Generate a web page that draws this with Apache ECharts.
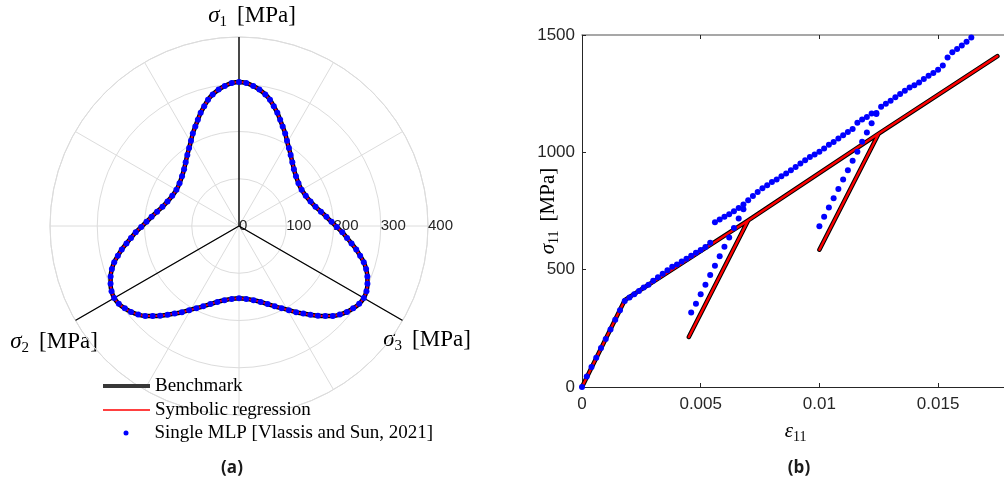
<!DOCTYPE html>
<html>
<head>
<meta charset="utf-8">
<script src="https://cdn.jsdelivr.net/npm/echarts@6.0.0/dist/echarts.min.js"></script>
<style>
  html, body { margin: 0; padding: 0; background: #ffffff; }
  #chart { width: 1004px; height: 485px; }
</style>
</head>
<body>
<div id="chart"></div>
<script>
// ---------- (a) yield surface in the pi-plane ----------
// Lode angle (degrees, counter-clockwise from the horizontal) of each sampled point
const piAngle = [
  30, 35.7, 41.1, 45.9, 50.1, 54, 57.4, 60.6, 63.5, 66.3, 68.8, 71.3, 73.8, 76.2, 78.7, 81.5, 84.2, 87.1,
  90, 92.9, 95.8, 98.5, 101.3, 103.8, 106.2, 108.7, 111.2, 113.7, 116.5, 119.4, 122.6, 126, 129.9, 134.1, 138.9, 144.3,
  150, 155.7, 161.1, 165.9, 170.1, 174, 177.4, 180.6, 183.5, 186.3, 188.8, 191.3, 193.8, 196.2, 198.7, 201.5, 204.2, 207.1,
  210, 212.9, 215.8, 218.5, 221.3, 223.8, 226.2, 228.7, 231.2, 233.7, 236.5, 239.4, 242.6, 246, 249.9, 254.1, 258.9, 264.3,
  270, 275.7, 281.1, 285.9, 290.1, 294, 297.4, 300.6, 303.5, 306.3, 308.8, 311.3, 313.8, 316.2, 318.7, 321.5, 324.2, 327.1,
  330, 332.9, 335.8, 338.5, 341.3, 343.8, 346.2, 348.7, 351.2, 353.7, 356.5, 359.4, 2.6, 6, 9.9, 14.1, 18.9, 24.3
];
// deviatoric radius of the yield surface at those angles (MPa)
const piRadius = [
  153, 155, 160, 167, 176, 186, 196, 207, 219, 230, 241, 253, 264, 275, 284, 292, 298, 303,
  305, 303, 298, 292, 284, 275, 264, 253, 241, 230, 219, 207, 196, 186, 176, 167, 160, 155,
  153, 155, 160, 167, 176, 186, 196, 207, 219, 230, 241, 253, 264, 275, 284, 292, 298, 303,
  305, 303, 298, 292, 284, 275, 264, 253, 241, 230, 219, 207, 196, 186, 176, 167, 160, 155,
  153, 155, 160, 167, 176, 186, 196, 207, 219, 230, 241, 253, 264, 275, 284, 292, 298, 303,
  305, 303, 298, 292, 284, 275, 264, 253, 241, 230, 219, 207, 196, 186, 176, 167, 160, 155
];
const principalAxisAngle = [90, 210, 330];
const radiusTicks = [0, 100, 200, 300, 400];

// ---------- (b) uniaxial cyclic response ----------
const strainTicks = [0, 0.005, 0.01, 0.015];
const strainMax = 0.018;
const stressTicks = [0, 500, 1000, 1500];
const benchmarkPath = [
  [0, 0], [0.0018, 370], [0.007, 710], [0.0045, 213], [0.007, 710],
  [0.0125, 1080], [0.01, 585], [0.0125, 1080], [0.0175, 1410]
];
const symbolicPath = [
  [0, 0], [0.0018, 370], [0.007, 710], [0.0045, 213], [0.007, 710],
  [0.0125, 1080], [0.01, 585], [0.0125, 1080], [0.0175, 1410]
];
const mlpLoading = [
  [0, 0], [0.0002, 45], [0.0004, 85], [0.0006, 125], [0.0008, 166], [0.001, 205], [0.0012, 245],
  [0.0014, 287], [0.0016, 327], [0.0018, 367], [0.002, 381], [0.0022, 395], [0.0024, 409],
  [0.0026, 424], [0.0028, 436], [0.003, 453], [0.0032, 468], [0.0034, 483], [0.0036, 497],
  [0.0038, 512], [0.004, 522], [0.0042, 535], [0.0044, 546], [0.0046, 559], [0.0048, 572],
  [0.005, 584], [0.0052, 597], [0.0054, 615]
];
const mlpCycle1 = [
  [0.0046, 317], [0.0048, 355], [0.005, 395], [0.0052, 436], [0.0054, 477], [0.0056, 517],
  [0.0058, 557], [0.006, 598], [0.0062, 637], [0.0064, 678], [0.0066, 718], [0.0068, 757]
];
const mlpReloading = [
  [0.0056, 702], [0.0058, 714], [0.006, 725], [0.0062, 736], [0.0064, 749], [0.0066, 763],
  [0.0068, 778], [0.007, 796], [0.0072, 814], [0.0074, 831], [0.0076, 847], [0.0078, 860],
  [0.008, 874], [0.0082, 884], [0.0084, 898], [0.0086, 910], [0.0088, 924], [0.009, 938],
  [0.0092, 952], [0.0094, 966], [0.0096, 980], [0.0098, 991], [0.01, 1003], [0.0102, 1016],
  [0.0104, 1032], [0.0106, 1044], [0.0108, 1059], [0.011, 1073], [0.0112, 1087], [0.0114, 1099],
  [0.0116, 1126], [0.0118, 1140], [0.012, 1151], [0.0122, 1165], [0.0124, 1168], [0.0126, 1194],
  [0.0128, 1207], [0.013, 1220], [0.0132, 1235], [0.0134, 1249], [0.0136, 1262], [0.0138, 1276],
  [0.014, 1286], [0.0142, 1298], [0.0144, 1312], [0.0146, 1326], [0.0148, 1338], [0.015, 1352],
  [0.0152, 1370], [0.0154, 1404], [0.0156, 1426], [0.0158, 1440], [0.016, 1455], [0.0162, 1471],
  [0.0164, 1489]
];
const mlpCycle2 = [
  [0.01, 685], [0.0102, 725], [0.0104, 765], [0.0106, 804], [0.0108, 844], [0.011, 884],
  [0.0112, 924], [0.0114, 964], [0.0116, 1003], [0.0118, 1045], [0.012, 1084], [0.0122, 1124],
  [0.0124, 1163]
];

const NAME_BENCH = 'Benchmark';
const NAME_SR = 'Symbolic regression';
const NAME_MLP = 'Single MLP [Vlassis and Sun, 2021]';

const SERIF = 'Liberation Serif';
const SANS = 'Liberation Sans';
const AXIS_INK = '#262626';
const GRID_INK = '#dcdcdc';

// rich-text styles: italic symbol, lowered subscript, upright text
function mathRich(size, subSize) {
  const lh = size + 5;
  return {
    i: { fontFamily: SERIF, fontStyle: 'italic', fontSize: size, lineHeight: lh, verticalAlign: 'middle', color: '#000', fill: '#000' },
    s: { fontFamily: SERIF, fontSize: subSize, lineHeight: subSize, verticalAlign: 'bottom', color: '#000', fill: '#000' },
    g: { fontFamily: SERIF, fontSize: size, lineHeight: lh, width: Math.round(size * 0.45), verticalAlign: 'middle' },
    m: { fontFamily: SERIF, fontSize: size, lineHeight: lh, verticalAlign: 'middle', color: '#000', fill: '#000' }
  };
}

// polar points: [radius, angle]
const surfacePts = piAngle.map((a, k) => [piRadius[k], a]);
const surfaceLoop = surfacePts.concat([surfacePts[0]]);
const principalAxes = [];
principalAxisAngle.forEach((a, k) => {
  if (k > 0) principalAxes.push([0, 0]);
  principalAxes.push([radiusTicks[radiusTicks.length - 1], a]);
});

const mlpPoints = mlpLoading.concat(mlpCycle1, mlpReloading, mlpCycle2);

const chart = echarts.init(document.getElementById('chart'), null, { renderer: 'canvas' });

const legendText = { fontFamily: SERIF, fontSize: 19, color: '#000', lineHeight: 20 };
const plainNumber = v => String(v);

chart.setOption({
  animation: false,
  backgroundColor: '#ffffff',
  polar: { center: [239, 226], radius: 189 },
  angleAxis: {
    type: 'value', min: 0, max: 360, interval: 30, startAngle: 0, clockwise: false,
    axisLine: { show: true, lineStyle: { color: GRID_INK, width: 1 } },
    axisTick: { show: false }, axisLabel: { show: false },
    splitLine: { show: true, lineStyle: { color: GRID_INK, width: 1 } }
  },
  radiusAxis: {
    type: 'value', min: radiusTicks[0], max: radiusTicks[radiusTicks.length - 1],
    interval: radiusTicks[1] - radiusTicks[0],
    axisLine: { show: false }, axisTick: { show: false },
    axisLabel: { show: true, margin: 0, align: 'left', verticalAlign: 'middle', fontFamily: SANS, fontSize: 15, color: AXIS_INK, showMaxLabel: true, showMinLabel: true, formatter: plainNumber },
    splitLine: { show: true, lineStyle: { color: GRID_INK, width: 1 } }
  },
  // the plot box runs slightly past the right edge of the canvas
  grid: { left: 582, top: 35, width: 427.3, height: 352, containLabel: false, outerBoundsMode: 'none' },
  xAxis: [
    {
      type: 'value', position: 'bottom', min: strainTicks[0], max: strainMax,
      interval: strainTicks[1] - strainTicks[0],
      name: '{i|ε}{s|11}', nameLocation: 'middle', nameGap: 31, nameMoveOverlap: false,
      nameTextStyle: { rich: mathRich(21, 14) },
      axisLine: { show: true, onZero: false, lineStyle: { color: AXIS_INK, width: 1 } },
      axisTick: { show: true, inside: true, length: 4, lineStyle: { color: AXIS_INK } },
      axisLabel: { margin: 9, fontFamily: SANS, fontSize: 17, color: AXIS_INK, showMaxLabel: false, formatter: plainNumber },
      splitLine: { show: false }
    },
    {
      type: 'value', position: 'top', min: strainTicks[0], max: strainMax,
      interval: strainTicks[1] - strainTicks[0],
      axisLine: { show: true, onZero: false, lineStyle: { color: '#8a8a8a', width: 1.5 } },
      axisTick: { show: true, inside: true, length: 4, lineStyle: { color: AXIS_INK } },
      axisLabel: { show: false }, splitLine: { show: false }
    }
  ],
  yAxis: {
    type: 'value', min: stressTicks[0], max: stressTicks[stressTicks.length - 1],
    interval: stressTicks[1] - stressTicks[0],
    name: '{i|σ}{s|11}{g| }{m|[MPa]}', nameLocation: 'middle', nameGap: 21, nameMoveOverlap: false,
    nameTextStyle: { rich: mathRich(21, 14) },
    axisLine: { show: true, onZero: false, lineStyle: { color: AXIS_INK, width: 1 } },
    axisTick: { show: true, inside: true, length: 4, lineStyle: { color: AXIS_INK } },
    axisLabel: { margin: 7, fontFamily: SANS, fontSize: 17, color: AXIS_INK, formatter: plainNumber },
    splitLine: { show: false }
  },
  legend: [
    {
      data: [NAME_BENCH], left: 103, top: 376, padding: 0, selectedMode: false,
      icon: 'rect', itemWidth: 47, itemHeight: 4, itemStyle: { color: '#383838' }, textStyle: legendText
    },
    {
      data: [NAME_SR], left: 103, top: 400, padding: 0, selectedMode: false,
      icon: 'rect', itemWidth: 47, itemHeight: 1.6, itemStyle: { color: '#ff0000' }, textStyle: legendText
    },
    {
      data: [NAME_MLP], left: 123.5, top: 423, padding: 0, selectedMode: false,
      icon: 'circle', itemWidth: 5, itemHeight: 5, itemStyle: { color: '#0000ff', opacity: 1 },
      textStyle: Object.assign({}, legendText, { padding: [0, 0, 0, 21] })
    }
  ],
  graphic: [
    { type: 'text', x: 252, y: 16, style: { text: '{i|σ}{s|1}{g| }{m|[MPa]}', rich: mathRich(23, 15), align: 'center', verticalAlign: 'middle' } },
    { type: 'text', x: 54, y: 342, style: { text: '{i|σ}{s|2}{g| }{m|[MPa]}', rich: mathRich(23, 15), align: 'center', verticalAlign: 'middle' } },
    { type: 'text', x: 427, y: 340, style: { text: '{i|σ}{s|3}{g| }{m|[MPa]}', rich: mathRich(23, 15), align: 'center', verticalAlign: 'middle' } },
    { type: 'text', x: 232, y: 468, style: { text: '(a)', fontFamily: 'Open Sans', fontWeight: 'bold', fontSize: 17, fill: '#1a1a1a', align: 'center', verticalAlign: 'middle' } },
    { type: 'text', x: 799, y: 468, style: { text: '(b)', fontFamily: 'Open Sans', fontWeight: 'bold', fontSize: 17, fill: '#1a1a1a', align: 'center', verticalAlign: 'middle' } }
  ],
  series: [
    // principal stress directions
    {
      type: 'line', coordinateSystem: 'polar', data: principalAxes, symbol: 'none', silent: true,
      lineStyle: { color: '#000', width: 1.4 }, z: 1
    },
    {
      name: NAME_BENCH, type: 'line', coordinateSystem: 'polar', data: surfaceLoop, symbol: 'none',
      smooth: 0.3, lineStyle: { color: '#000', width: 4.5 }, itemStyle: { color: '#000' }, z: 2
    },
    {
      name: NAME_SR, type: 'line', coordinateSystem: 'polar', data: surfaceLoop, symbol: 'none',
      smooth: 0.3, lineStyle: { color: '#ff0000', width: 2 }, itemStyle: { color: '#ff0000' }, z: 3
    },
    {
      name: NAME_MLP, type: 'scatter', coordinateSystem: 'polar', data: surfacePts,
      symbol: 'circle', symbolSize: 6, itemStyle: { color: '#0000ff', opacity: 1 }, z: 4
    },
    {
      name: NAME_BENCH, type: 'line', xAxisIndex: 0, yAxisIndex: 0, data: benchmarkPath, symbol: 'none',
      lineStyle: { color: '#000', width: 4.5, join: 'round', cap: 'round' }, itemStyle: { color: '#000' }, z: 2
    },
    {
      name: NAME_SR, type: 'line', xAxisIndex: 0, yAxisIndex: 0, data: symbolicPath, symbol: 'none',
      lineStyle: { color: '#ff0000', width: 2.4, join: 'round', cap: 'round' }, itemStyle: { color: '#ff0000' }, z: 3
    },
    {
      name: NAME_MLP, type: 'scatter', xAxisIndex: 0, yAxisIndex: 0, data: mlpPoints,
      symbol: 'circle', symbolSize: 6, itemStyle: { color: '#0000ff', opacity: 1 }, z: 4
    }
  ]
});
</script>
</body>
</html>
